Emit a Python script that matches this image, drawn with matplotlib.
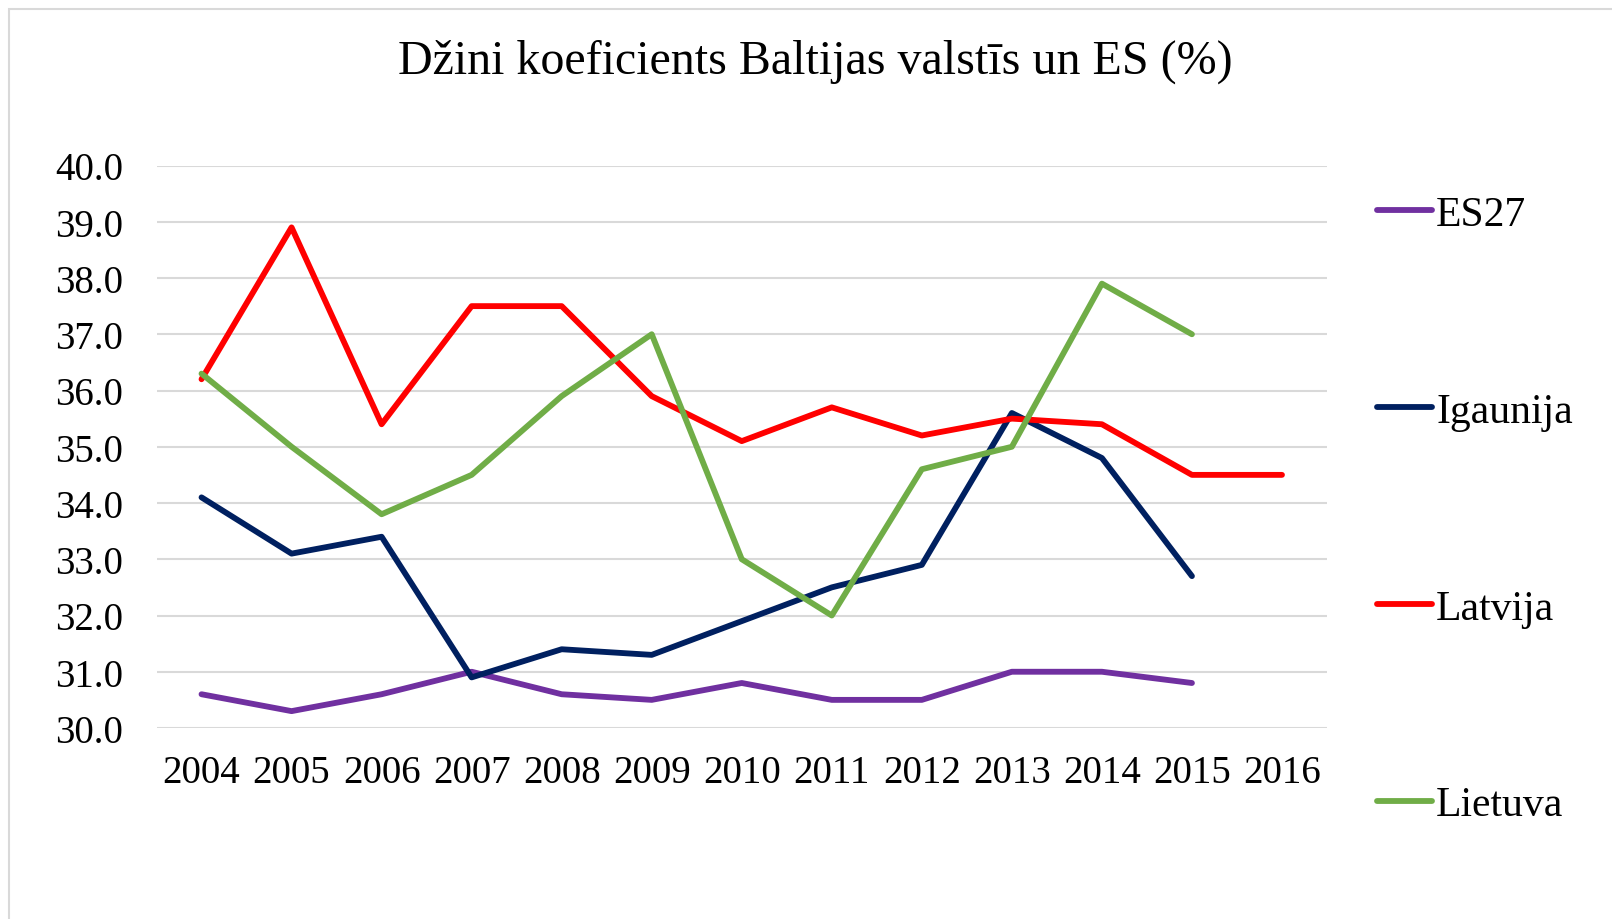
import numpy as np
import matplotlib
matplotlib.use("Agg")
import matplotlib.pyplot as plt
from matplotlib.patches import Rectangle

plt.rcParams['font.family'] = ['Liberation Serif', 'DejaVu Serif']

# data
years = ["2004", "2005", "2006", "2007", "2008", "2009", "2010",
         "2011", "2012", "2013", "2014", "2015", "2016"]
es27 = [30.6, 30.3, 30.6, 31.0, 30.6, 30.5, 30.8, 30.5, 30.5, 31.0, 31.0, 30.8, np.nan]
igaunija = [34.1, 33.1, 33.4, 30.9, 31.4, 31.3, 31.9, 32.5, 32.9, 35.6, 34.8, 32.7, np.nan]
latvija = [36.2, 38.9, 35.4, 37.5, 37.5, 35.9, 35.1, 35.7, 35.2, 35.5, 35.4, 34.5, 34.5]
lietuva = [36.3, 35.0, 33.8, 34.5, 35.9, 37.0, 33.0, 32.0, 34.6, 35.0, 37.9, 37.0, np.nan]

series = [("ES27", es27, "#7030A0"),
          ("Igaunija", igaunija, "#002060"),
          ("Latvija", latvija, "#FF0000"),
          ("Lietuva", lietuva, "#70AD47")]

W, H = 1612, 920
fig = plt.figure(figsize=(W / 100, H / 100), dpi=100)

# chart area border (only left/top visible in the reference)
fig.patches.append(Rectangle((9 / W, -0.1), 1.2, 1 - 10 / H + 0.1,
                             transform=fig.transFigure, fill=False,
                             edgecolor="#d9d9d9", linewidth=1.5))

left, right = 156.5 / W, 1327 / W
bottom, top = 1 - 729 / H, 1 - 166.5 / H
ax = fig.add_axes([left, bottom, right - left, top - bottom])

x = np.arange(len(years))
for name, vals, col in series:
    ax.plot(x, vals, color=col, lw=4.2, label=name,
            solid_capstyle="round", solid_joinstyle="round")

ax.set_xlim(-0.5, len(years) - 0.5)
ax.set_ylim(30, 40)
ax.set_yticks(np.arange(30, 40.1, 1))
ax.set_yticklabels([f"{v:.1f}" for v in np.arange(30, 40.1, 1)])
ax.set_xticks(x)
ax.set_xticklabels(years)
ax.tick_params(axis="both", length=0, labelsize=28)
ax.tick_params(axis="y", pad=24)
ax.tick_params(axis="x", pad=19)
ax.grid(axis="y", color="#d9d9d9", lw=1.5)
ax.set_axisbelow(True)
for s in ax.spines.values():
    s.set_visible(False)

fig.text(815 / W, 1 - 62 / H, "Džini koeficients Baltijas valstīs un ES (%)",
         ha="center", va="center", fontsize=34.6)

handles, labels = ax.get_legend_handles_labels()
fig.legend(handles, labels, loc="center left",
           bbox_to_anchor=(1377 / W, 1 - 511 / H), frameon=False,
           fontsize=30, handlelength=1.32, handletextpad=0.1,
           labelspacing=3.8, borderpad=0, borderaxespad=0)

fig.savefig("out.png", dpi=100, facecolor="white")
